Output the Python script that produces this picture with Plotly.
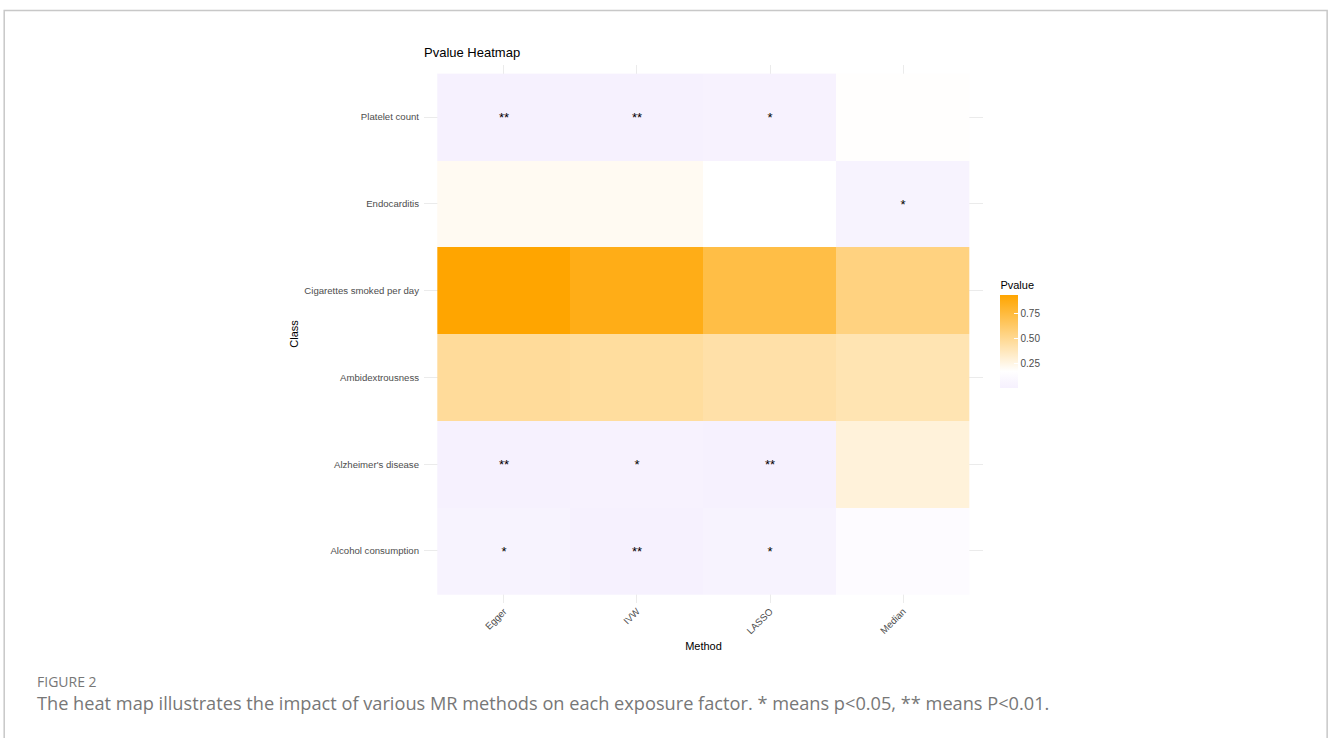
import plotly.graph_objects as go

# Mendelian-randomisation methods (columns) and exposure factors (rows, bottom to top)
methods = ["Egger", "IVW", "LASSO", "Median"]
exposures = [
    "Alcohol consumption",
    "Alzheimer's disease",
    "Ambidextrousness",
    "Cigarettes smoked per day",
    "Endocarditis",
    "Platelet count",
]

# P values per exposure, one list per method (same order as `exposures`)
pval_egger = [0.027, 0.006, 0.47, 0.93, 0.21, 0.004]
pval_ivw = [0.005, 0.018, 0.46, 0.86, 0.21, 0.003]
pval_lasso = [0.034, 0.008, 0.43, 0.72, 0.17, 0.021]
pval_median = [0.13, 0.28, 0.40, 0.55, 0.031, 0.175]

columns = [pval_egger, pval_ivw, pval_lasso, pval_median]
z = [[col[i] for col in columns] for i in range(len(exposures))]


def stars(p):
    if p < 0.01:
        return "**"
    if p < 0.05:
        return "*"
    return ""


text = [[stars(v) for v in row] for row in z]

zmin = min(min(r) for r in z)
zmax = max(max(r) for r in z)


def stop(v):
    return (v - zmin) / (zmax - zmin)


colorscale = [
    [0.0, "#F6F1FE"],
    [stop(0.05), "#F8F4FE"],
    [stop(0.17), "#FFFFFF"],
    [1.0, "#FFA500"],
]

W, H = 1328, 738
L, R, T, B = 424, 982.6, 65, 603  # plot area in pixels


def px_x(x):
    return (x - L) / (R - L)


def px_y(y):
    return (B - y) / (B - T)


SANS = "Liberation Sans, Arial, Helvetica, sans-serif"

fig = go.Figure(
    go.Heatmap(
        x=methods,
        y=exposures,
        z=z,
        zmin=zmin,
        zmax=zmax,
        colorscale=colorscale,
        text=text,
        texttemplate="%{text}",
        textfont=dict(family=SANS, size=13, color="#000000"),
        xgap=0,
        ygap=0,
        hoverinfo="skip",
        colorbar=dict(
            title=dict(text="Pvalue", side="top",
                       font=dict(family=SANS, size=11, color="#000000")),
            lenmode="pixels",
            len=110,
            ypad=0,
            xpad=0,
            thickness=18,
            x=px_x(1000),
            xanchor="left",
            y=px_y(388),
            yanchor="bottom",
            outlinewidth=0,
            ticks="inside",
            ticklen=4,
            tickcolor="#FFFFFF",
            tickvals=[0.25, 0.5, 0.75],
            ticktext=["0.25", "0.50", "0.75"],
            tickfont=dict(family=SANS, size=10, color="#4D4D4D"),
        ),
    )
)

axis_font = dict(family=SANS, size=9.6, color="#4D4D4D")
title_font = dict(family=SANS, size=11, color="#000000")

fig.update_xaxes(
    range=[-0.6, 3.6],
    showgrid=True,
    gridcolor="#EBEBEB",
    gridwidth=1,
    zeroline=False,
    showline=False,
    ticks="",
    tickangle=-45,
    tickfont=axis_font,
    title=dict(text="Method", font=title_font, standoff=7),
)
fig.update_yaxes(
    range=[-0.6, 5.6],
    showgrid=True,
    gridcolor="#EBEBEB",
    gridwidth=1,
    zeroline=False,
    showline=False,
    ticks="",
    ticklabelstandoff=4,
    tickfont=axis_font,
    title=dict(text="Class", font=title_font, standoff=3),
)

fig.update_layout(
    width=W,
    height=H,
    margin=dict(l=L, r=W - R, t=T, b=H - B, pad=0),
    paper_bgcolor="#FFFFFF",
    plot_bgcolor="#FFFFFF",
    title=dict(
        text="Pvalue Heatmap",
        x=L / W,
        xanchor="left",
        y=1 - 52 / H,
        yanchor="middle",
        font=dict(family=SANS, size=13, color="#000000"),
    ),
    shapes=[
        dict(
            type="rect",
            xref="paper",
            yref="paper",
            x0=px_x(4.5),
            x1=px_x(1326.5),
            y0=px_y(760),
            y1=px_y(10.5),
            line=dict(color="#C8C8C8", width=1.5),
            fillcolor="rgba(0,0,0,0)",
            layer="below",
        )
    ],
    annotations=[
        dict(
            text="FIGURE 2",
            xref="paper",
            yref="paper",
            x=px_x(35),
            y=px_y(681),
            xanchor="left",
            yanchor="middle",
            showarrow=False,
            font=dict(family="Open Sans, sans-serif", size=14, color="#777777"),
        ),
        dict(
            text="The heat map illustrates the impact of various MR methods on each exposure factor. * means p<0.05, ** means P<0.01.",
            xref="paper",
            yref="paper",
            x=px_x(35),
            y=px_y(703),
            xanchor="left",
            yanchor="middle",
            showarrow=False,
            font=dict(family="Open Sans, sans-serif", size=18.2, color="#777777"),
        ),
    ],
)

fig.write_html("out.html")
